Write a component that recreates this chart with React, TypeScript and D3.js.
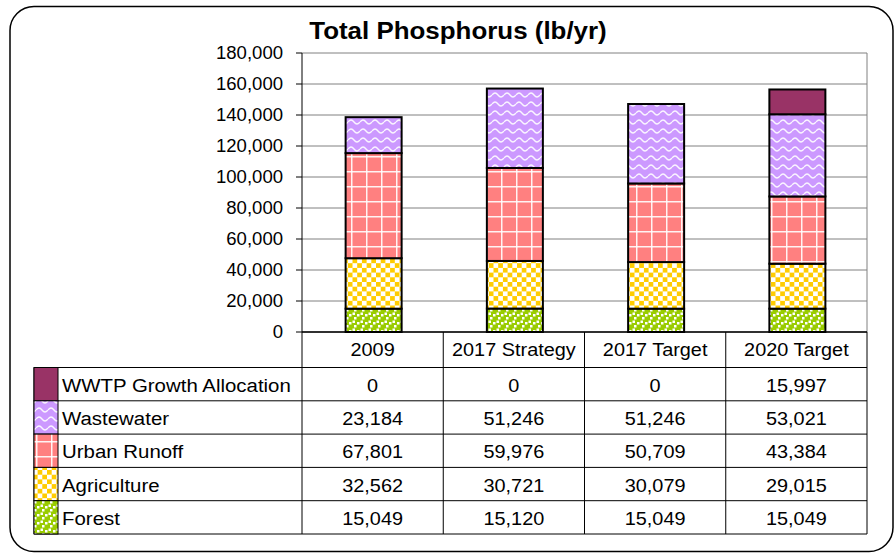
import React from "react";
import * as d3 from "d3";

const categories = ["2009", "2017 Strategy", "2017 Target", "2020 Target"];
const seriesKeys = ["forest", "agriculture", "urban", "wastewater", "wwtp"];
const seriesLabels = ["Forest", "Agriculture", "Urban Runoff", "Wastewater", "WWTP Growth Allocation"];
const forest = [15049, 15120, 15049, 15049];
const agriculture = [32562, 30721, 30079, 29015];
const urban = [67801, 59976, 50709, 43384];
const wastewater = [23184, 51246, 51246, 53021];
const wwtp = [0, 0, 0, 15997];
const yTicks = [0, 20000, 40000, 60000, 80000, 100000, 120000, 140000, 160000, 180000];
const title = "Total Phosphorus (lb/yr)";

const W = 896;
const H = 557;
const plot = { left: 302, right: 867, top: 53, bottom: 332 };
const headerH = 35.5;
const rowH = 33.3;
const tableLeft = 34;
const keyW = 24;
const FONT = "'Liberation Sans', Arial, sans-serif";

const fills: Record<string, string> = {
  forest: "url(#pForest)",
  agriculture: "url(#pAgri)",
  urban: "url(#pUrban)",
  wastewater: "url(#pWaste)",
  wwtp: "#993366",
};

function T(props: { x: number; y: number; sx?: number; anchor?: string; size: number; bold?: boolean; children: any }) {
  const sx = props.sx ?? 1;
  return (
    <text
      transform={`translate(${props.x},${props.y}) scale(${sx},1)`}
      dy="0.35em"
      textAnchor={props.anchor ?? "start"}
      fontSize={props.size}
      fontWeight={props.bold ? "bold" : "normal"}
    >
      {props.children}
    </text>
  );
}

export default function App() {
  const seriesData: Record<string, number[]> = { forest, agriculture, urban, wastewater, wwtp };
  const rows = categories.map((c, i) => {
    const r: any = { cat: c };
    seriesKeys.forEach((k) => (r[k] = seriesData[k][i]));
    return r;
  });
  const stacked = d3.stack().keys(seriesKeys)(rows);

  const x = d3.scaleBand<string>().domain(categories).range([plot.left, plot.right]).paddingInner(0).paddingOuter(0);
  const y = d3.scaleLinear().domain([0, 180000]).range([plot.bottom, plot.top]);
  const barW = 56;
  const fmt = d3.format(",");

  const tableRows = seriesKeys.slice().reverse();
  const tableTop = plot.bottom + headerH;
  const tableBottom = tableTop + rowH * tableRows.length;
  const sxT = 1.075;

  return (
    <svg width={W} height={H} style={{ position: "absolute", left: 0, top: 0 }} fontFamily={FONT}>
      <defs>
        <pattern id="pForest" width="8" height="8" patternUnits="userSpaceOnUse">
          <rect width="8" height="8" fill="#99CC00" />
          <rect x="0.5" y="0.5" width="2.5" height="2.5" fill="#fff" />
          <rect x="5" y="2" width="2.5" height="2.5" fill="#fff" />
          <rect x="2" y="5" width="2.5" height="2.5" fill="#fff" />
        </pattern>
        <pattern id="pAgri" width="9.4" height="9.4" patternUnits="userSpaceOnUse">
          <rect width="9.4" height="9.4" fill="#fff" />
          <rect x="0" y="0" width="4.7" height="4.7" fill="#FFCC00" />
          <rect x="4.7" y="4.7" width="4.7" height="4.7" fill="#FFCC00" />
        </pattern>
        <pattern id="pUrban" width="15" height="15" patternUnits="userSpaceOnUse">
          <rect width="15" height="15" fill="#FF8080" />
          <rect x="6" y="0" width="1.5" height="15" fill="#fff" opacity="0.9" />
          <rect x="0" y="6" width="15" height="1.5" fill="#fff" opacity="0.9" />
        </pattern>
        <pattern id="pWaste" width="12" height="9" patternUnits="userSpaceOnUse">
          <rect width="12" height="9" fill="#CC99FF" />
          <path d="M0,5 Q3,1 6,5 T12,5" fill="none" stroke="#fff" strokeWidth="1.3" opacity="0.9" />
        </pattern>
      </defs>

      {/* outer rounded border */}
      <rect x={10} y={6.5} width={883} height={545} rx={24} ry={24} fill="#fff" stroke="#000" strokeWidth={1.5} />

      {/* title */}
      <T x={458} y={31} anchor="middle" size={24} bold sx={1.08}>{title}</T>

      {/* gridlines */}
      {yTicks.map((t) => (
        <line key={t} x1={plot.left} x2={plot.right} y1={y(t)} y2={y(t)} stroke="#808080" strokeWidth={1} />
      ))}
      <line x1={plot.right} x2={plot.right} y1={plot.top} y2={plot.bottom} stroke="#808080" strokeWidth={1} />

      {/* y axis */}
      <line x1={plot.left} x2={plot.left} y1={plot.top} y2={plot.bottom} stroke="#000" strokeWidth={1} />
      {yTicks.map((t) => (
        <g key={"t" + t}>
          <line x1={plot.left - 6} x2={plot.left} y1={y(t)} y2={y(t)} stroke="#000" strokeWidth={1} />
          <T x={283} y={y(t)} anchor="end" size={18} sx={1.03}>{fmt(t)}</T>
        </g>
      ))}

      {/* bars */}
      {stacked.map((s) => (
        <g key={s.key}>
          {s.map((d, i) => {
            const h = y(d[0]) - y(d[1]);
            if (h <= 0) return null;
            const cx = (x(categories[i]) as number) + x.bandwidth() / 2 + 1;
            return (
              <rect key={i} x={cx - barW / 2} y={y(d[1])} width={barW} height={h} fill={fills[s.key]} stroke="#000" strokeWidth={2} />
            );
          })}
        </g>
      ))}

      {/* table header */}
      <line x1={plot.left} x2={plot.right} y1={plot.bottom} y2={plot.bottom} stroke="#000" strokeWidth={1.5} />
      {categories.map((c) => (
        <T key={c} x={(x(c) as number) + x.bandwidth() / 2} y={plot.bottom + headerH / 2} anchor="middle" size={18.5} sx={sxT}>{c}</T>
      ))}
      {d3.range(tableRows.length + 1).map((i) => (
        <line key={"h" + i} x1={tableLeft} x2={plot.right} y1={tableTop + i * rowH} y2={tableTop + i * rowH} stroke="#000" strokeWidth={1} />
      ))}
      <line x1={tableLeft} x2={tableLeft} y1={tableTop} y2={tableBottom} stroke="#000" strokeWidth={1} />
      {[...categories.map((c) => x(c) as number), plot.right].map((xv, i) => (
        <line key={"v" + i} x1={xv} x2={xv} y1={plot.bottom} y2={tableBottom} stroke="#000" strokeWidth={1} />
      ))}
      {tableRows.map((k, ri) => {
        const ty = tableTop + ri * rowH;
        const si = seriesKeys.indexOf(k);
        return (
          <g key={k}>
            <rect x={tableLeft} y={ty} width={keyW} height={rowH} fill={fills[k]} stroke="#000" strokeWidth={1} />
            <T x={tableLeft + keyW + 4} y={ty + rowH / 2 + 1} size={19} sx={sxT}>{seriesLabels[si]}</T>
            {categories.map((c, ci) => (
              <T key={c} x={(x(c) as number) + x.bandwidth() / 2} y={ty + rowH / 2 + 1} anchor="middle" size={18.5} sx={sxT}>
                {fmt(seriesData[k][ci])}
              </T>
            ))}
          </g>
        );
      })}
    </svg>
  );
}
